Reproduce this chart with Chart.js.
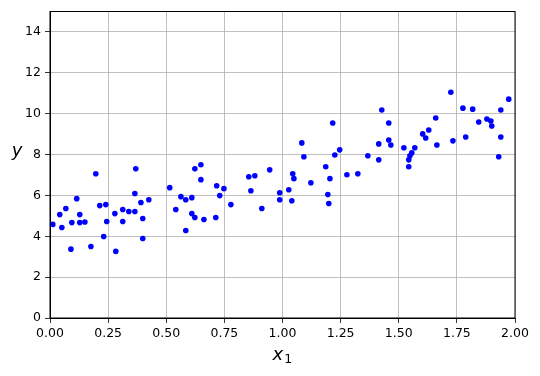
<!DOCTYPE html>
<html>
<head>
<meta charset="utf-8">
<script src="https://cdn.jsdelivr.net/npm/chart.js@4/dist/chart.umd.min.js"></script>
<style>
  body { margin: 0; background: #fff; }
  #wrap { width: 540px; height: 376px; }
</style>
</head>
<body>
<div id="wrap"><canvas id="chartCanvas" width="540" height="376"></canvas></div>
<script>
// values
const xValues = [
  0.012, 0.042, 0.051, 0.068, 0.090, 0.094, 0.115, 0.128, 0.128, 0.150,
  0.176, 0.197, 0.214, 0.231, 0.240, 0.244, 0.279, 0.283, 0.313, 0.313,
  0.339, 0.365, 0.365, 0.369, 0.391, 0.399, 0.399, 0.425, 0.515, 0.541,
  0.563, 0.584, 0.584, 0.610, 0.610, 0.623, 0.623, 0.649, 0.649, 0.662,
  0.713, 0.717, 0.730, 0.748, 0.778, 0.855, 0.864, 0.881, 0.911, 0.945,
  0.988, 0.988, 1.027, 1.040, 1.044, 1.049, 1.083, 1.092, 1.122, 1.186,
  1.195, 1.199, 1.204, 1.216, 1.225, 1.246, 1.277, 1.324, 1.367, 1.414,
  1.414, 1.427, 1.457, 1.457, 1.466, 1.522, 1.543, 1.543, 1.548, 1.556,
  1.569, 1.603, 1.616, 1.629, 1.659, 1.664, 1.724, 1.733, 1.776, 1.788,
  1.818, 1.844, 1.879, 1.896, 1.900, 1.930, 1.939, 1.939, 1.973
];
const yValues = [
  4.58, 5.06, 4.43, 5.36, 3.37, 4.67, 5.84, 5.06, 4.67, 4.70,
  3.50, 7.06, 5.50, 3.99, 5.55, 4.72, 5.11, 3.26, 5.31, 4.72,
  5.21, 5.21, 6.09, 7.30, 5.65, 4.87, 3.89, 5.79, 6.38, 5.31,
  5.94, 5.79, 4.28, 5.89, 5.11, 4.92, 7.30, 7.50, 6.77, 4.82,
  4.92, 6.47, 5.99, 6.33, 5.55, 6.91, 6.23, 6.96, 5.36, 7.25,
  6.13, 5.79, 6.28, 5.74, 7.06, 6.82, 8.57, 7.89, 6.62, 7.40,
  6.04, 5.60, 6.82, 9.54, 7.98, 8.23, 7.01, 7.06, 7.94, 8.52,
  7.74, 10.18, 9.54, 8.71, 8.47, 8.33, 7.40, 7.74, 7.94, 8.08,
  8.33, 9.01, 8.81, 9.20, 9.79, 8.47, 11.05, 8.67, 10.27, 8.86,
  10.22, 9.59, 9.74, 9.64, 9.40, 7.89, 10.18, 8.86, 10.71
];
const xTicks = [0, 0.25, 0.5, 0.75, 1.0, 1.25, 1.5, 1.75, 2.0];
const yTicks = [0, 2, 4, 6, 8, 10, 12, 14];

const points = xValues.map((x, i) => ({ x: x, y: yValues[i] }));
const tickFont = { family: "DejaVu Sans", size: 12.5 };

// frame on all four sides + matplotlib-style axis titles
const framePlugin = {
  id: "frame",
  afterDraw(chart) {
    const { ctx, chartArea: a } = chart;
    ctx.save();
    ctx.strokeStyle = "#000";
    ctx.lineWidth = 1;
    ctx.strokeRect(a.left, a.top, a.right - a.left, a.bottom - a.top);

    ctx.fillStyle = "#000";
    ctx.textBaseline = "alphabetic";
    // x label: italic x with subscript 1
    ctx.font = "italic 18px 'DejaVu Sans'";
    ctx.textAlign = "left";
    const cx = (a.left + a.right) / 2;
    const w = ctx.measureText("x").width;
    ctx.fillText("x", cx - 10, 360);
    ctx.font = "12.5px 'DejaVu Sans'";
    ctx.fillText("1", cx - 10 + w + 1, 363);
    // y label, horizontal
    ctx.font = "italic 18px 'DejaVu Sans'";
    ctx.textAlign = "center";
    ctx.fillText("y", 17, 156);
    ctx.restore();
  },
};

new Chart(document.getElementById("chartCanvas").getContext("2d"), {
  type: "scatter",
  data: {
    datasets: [
      {
        data: points,
        backgroundColor: "#0000ff",
        borderWidth: 0,
        pointRadius: 2.8,
        pointHoverRadius: 2.8,
      },
    ],
  },
  options: {
    responsive: false,
    animation: false,
    devicePixelRatio: 1,
    layout: { padding: { left: 0, right: 25, top: 10, bottom: 0 } },
    plugins: { legend: { display: false }, tooltip: { enabled: false } },
    scales: {
      x: {
        type: "linear",
        min: 0,
        max: 2,
        afterFit: (s) => { s.height = 58; },
        afterBuildTicks: (s) => { s.ticks = xTicks.map((v) => ({ value: v })); },
        grid: { color: "#b0b0b0", lineWidth: 0.8, tickColor: "#000", tickLength: 5 },
        border: { color: "#000", width: 1 },
        ticks: {
          color: "#000",
          font: tickFont,
          padding: 3,
          maxRotation: 0,
          callback: (v) => Number(v).toFixed(2),
        },
      },
      y: {
        type: "linear",
        min: 0,
        max: 15,
        afterFit: (s) => { s.width = 50; },
        afterBuildTicks: (s) => { s.ticks = yTicks.map((v) => ({ value: v })); },
        grid: { color: "#b0b0b0", lineWidth: 0.8, tickColor: "#000", tickLength: 5 },
        border: { color: "#000", width: 1 },
        ticks: { color: "#000", font: tickFont, padding: 4 },
      },
    },
  },
  plugins: [framePlugin],
});
</script>
</body>
</html>
